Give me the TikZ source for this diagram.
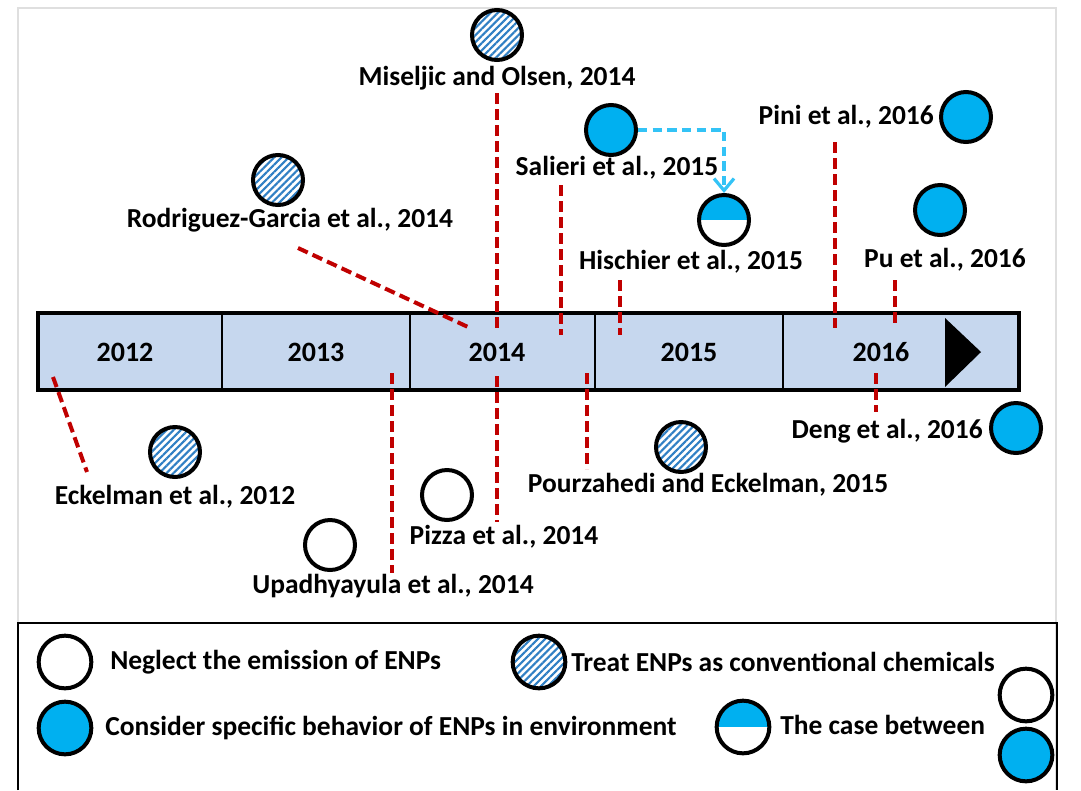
\documentclass[tikz,border=0pt]{standalone}
\usepackage{fontspec}
\setmainfont{Carlito}
\usetikzlibrary{patterns.meta,arrows.meta}
\definecolor{cblue}{HTML}{00B0F0}
\definecolor{arrblue}{HTML}{33C3F6}
\definecolor{hatchblue}{HTML}{2F7FC4}
\definecolor{barfill}{HTML}{C6D7EE}
\definecolor{dred}{HTML}{C00000}
\tikzset{
  circ/.style={circle,draw=black,line width=3pt,minimum size=37.5pt,inner sep=0pt},
  bigc/.style={minimum size=39.5pt},
  blue/.style={circ,fill=cblue},
  empty/.style={circ,fill=white},
  hatch/.style={circ,preaction={fill=white},pattern={Lines[angle=45,distance=3.8pt,line width=1.6pt]},pattern color=hatchblue},
  half/.style={circ,fill=white,path picture={\fill[cblue] (path picture bounding box.north west) rectangle (path picture bounding box.east);}},
  lab/.style={font=\fontsize{20.6}{24}\selectfont\bfseries,inner sep=0pt},
  yr/.style={font=\fontsize{21}{25}\selectfont\bfseries,inner sep=0pt},
  lead/.style={draw=dred,line width=3pt,dash pattern=on 8pt off 4pt},
  blink/.style={draw=arrblue,line width=2.6pt,dash pattern=on 7pt off 4pt,-{Straight Barb[length=9pt,width=15pt,line width=2.4pt]}}
}
\begin{document}
\begin{tikzpicture}[x=0.75pt,y=-0.75pt]
\useasboundingbox (0,0) rectangle (1081,790);
% outer light frame
\draw[gray!25,line width=1pt] (18,790) -- (18,8) -- (1056,8) -- (1056,790);
% timeline bar
\fill[barfill] (38,313) rectangle (1019,390);
\foreach \x in {222,410,595,783} \draw[line width=1.5pt] (\x,313) -- (\x,390);
\fill[black] (945,318) -- (945,387) -- (981,352) -- cycle;
\draw[line width=3.2pt] (38,313) rectangle (1019,390);
\node[yr] (y2012) at (125,352) {2012};
\node[yr] (y2013) at (316,352) {2013};
\node[yr] (y2014) at (497,352) {2014};
\node[yr] (y2015) at (689,352) {2015};
\node[yr] (y2016) at (881,352) {2016};

% Miseljic
\node[hatch] (cmis) at (497,35) {};
\node[lab] (lmis) at (497,78) {Miseljic and Olsen, 2014};
\coordinate (mis1) at (497,93); \coordinate (mis2) at (497,328);
\draw[lead] (mis1) -- (mis2);
% Rodriguez-Garcia
\node[hatch] (crod) at (278,180) {};
\node[lab] (lrod) at (290,220) {Rodriguez-Garcia et al., 2014};
\coordinate (rod1) at (298,248); \coordinate (rod2) at (468,327);
\draw[lead] (rod1) -- (rod2);
% Salieri
\node[blue] (csal) at (611,130) {};
\node[lab] (lsal) at (617,168) {Salieri et al., 2015};
\coordinate (sal1) at (561,185); \coordinate (sal2) at (561,335);
\draw[lead] (sal1) -- (sal2);
% Hischier
\node[half] (chis) at (724,220) {};
\node[lab] (lhis) at (691,262) {Hischier et al., 2015};
\coordinate (his1) at (620,280); \coordinate (his2) at (620,335);
\draw[lead] (his1) -- (his2);
\draw[blink] (csal.east) -| (chis.north);
% Pini
\node[blue] (cpini) at (966,117) {};
\node[lab,anchor=east] (lpini) at (934,117) {Pini et al., 2016};
\coordinate (pini1) at (835,142); \coordinate (pini2) at (835,328);
\draw[lead] (pini1) -- (pini2);
% Pu
\node[blue] (cpu) at (940,210) {};
\node[lab] (lpu) at (945,260) {Pu et al., 2016};
\coordinate (pu1) at (895,280); \coordinate (pu2) at (895,326);
\draw[lead] (pu1) -- (pu2);
% Deng
\node[blue] (cdeng) at (1016,428) {};
\node[lab,anchor=east] (ldeng) at (983,431) {Deng et al., 2016};
\coordinate (deng1) at (876,373); \coordinate (deng2) at (876,412);
\draw[lead] (deng1) -- (deng2);
% Pourzahedi
\node[hatch] (cpour) at (681,447) {};
\node[lab] (lpour) at (708,485) {Pourzahedi and Eckelman, 2015};
\coordinate (pour1) at (587,373); \coordinate (pour2) at (587,469);
\draw[lead] (pour1) -- (pour2);
% Eckelman
\node[hatch] (ceck) at (175,452) {};
\node[lab] (leck) at (175,497) {Eckelman et al., 2012};
\coordinate (eck1) at (53,377); \coordinate (eck2) at (87,472);
\draw[lead] (eck1) -- (eck2);
% Upadhyayula
\node[empty] (cupa) at (330,545) {};
\node[lab] (lupa) at (393,586) {Upadhyayula et al., 2014};
\coordinate (upa1) at (392,373); \coordinate (upa2) at (392,573);
\draw[lead] (upa1) -- (upa2);
% Pizza
\node[empty] (cpiz) at (447,495) {};
\node[lab] (lpiz) at (504,537) {Pizza et al., 2014};
\coordinate (piz1) at (497,376); \coordinate (piz2) at (497,522);
\draw[lead] (piz1) -- (piz2);

% legend
\draw[line width=1.5pt] (18,790) -- (18,623) -- (1057,623) -- (1057,790);
\node[empty,bigc] (g1) at (65,662) {};
\node[lab,anchor=west] (t1) at (110,662) {Neglect the emission of ENPs};
\node[hatch,bigc] (g2) at (539,662) {};
\node[lab,anchor=west] (t2) at (571,662) {Treat ENPs as conventional chemicals};
\node[blue,bigc] (g3) at (65,728) {};
\node[lab,anchor=west] (t3) at (105,728) {Consider specific behavior of ENPs in environment};
\node[half,bigc] (g4) at (743,727) {};
\node[lab,anchor=west] (t4) at (780,725) {The case between};
\node[empty,bigc] (g5) at (1026,695) {};
\node[blue,bigc] (g6) at (1026,755) {};
\end{tikzpicture}
\end{document}
